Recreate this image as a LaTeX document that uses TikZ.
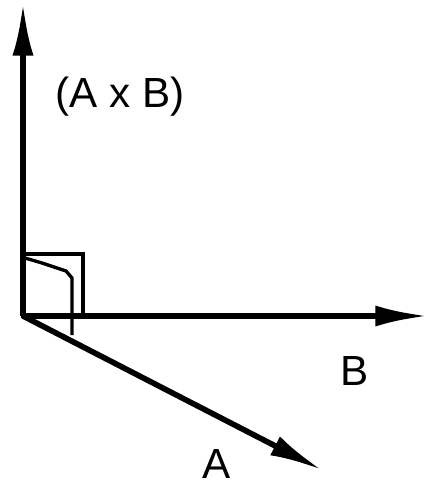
\documentclass[tikz,border=0pt]{standalone}
\usepackage{fontspec}
\setmainfont{Liberation Sans}
\usetikzlibrary{arrows.meta}
\tikzset{
  vec/.style    = {line width=3.2pt, -{Latex[length=30pt, width=12pt]}},
  rtangle/.style = {line width=1.9pt},
  lbl/.style    = {font=\fontsize{24}{27}\selectfont, inner sep=0pt, anchor=base},
}

\begin{document}
\begin{tikzpicture}[x=0.02cm, y=-0.02cm]
\useasboundingbox (0,0) rectangle (428,487);

% origin and vector tips
\coordinate (O)  at (23,316);
\coordinate (AB) at (23,3);
\coordinate (B)  at (428,316);
\coordinate (A)  at (322,470);

% right-angle marks
\draw[rtangle] (23,254) rectangle (83,316);
\draw[rtangle] (25,258) -- (42,263) -- (66,271) -- (72,278) -- (72,335);

% vectors
\draw[vec] (O) -- (AB);
\draw[vec] (O) -- (B);
\draw[vec] (O) -- (A);

% labels
\node[lbl] (lAB) at (120,107) {(A x B)};
\node[lbl] (lB)  at (355,385) {B};
\node[lbl] (lA)  at (217,478) {A};

\end{tikzpicture}
\end{document}
